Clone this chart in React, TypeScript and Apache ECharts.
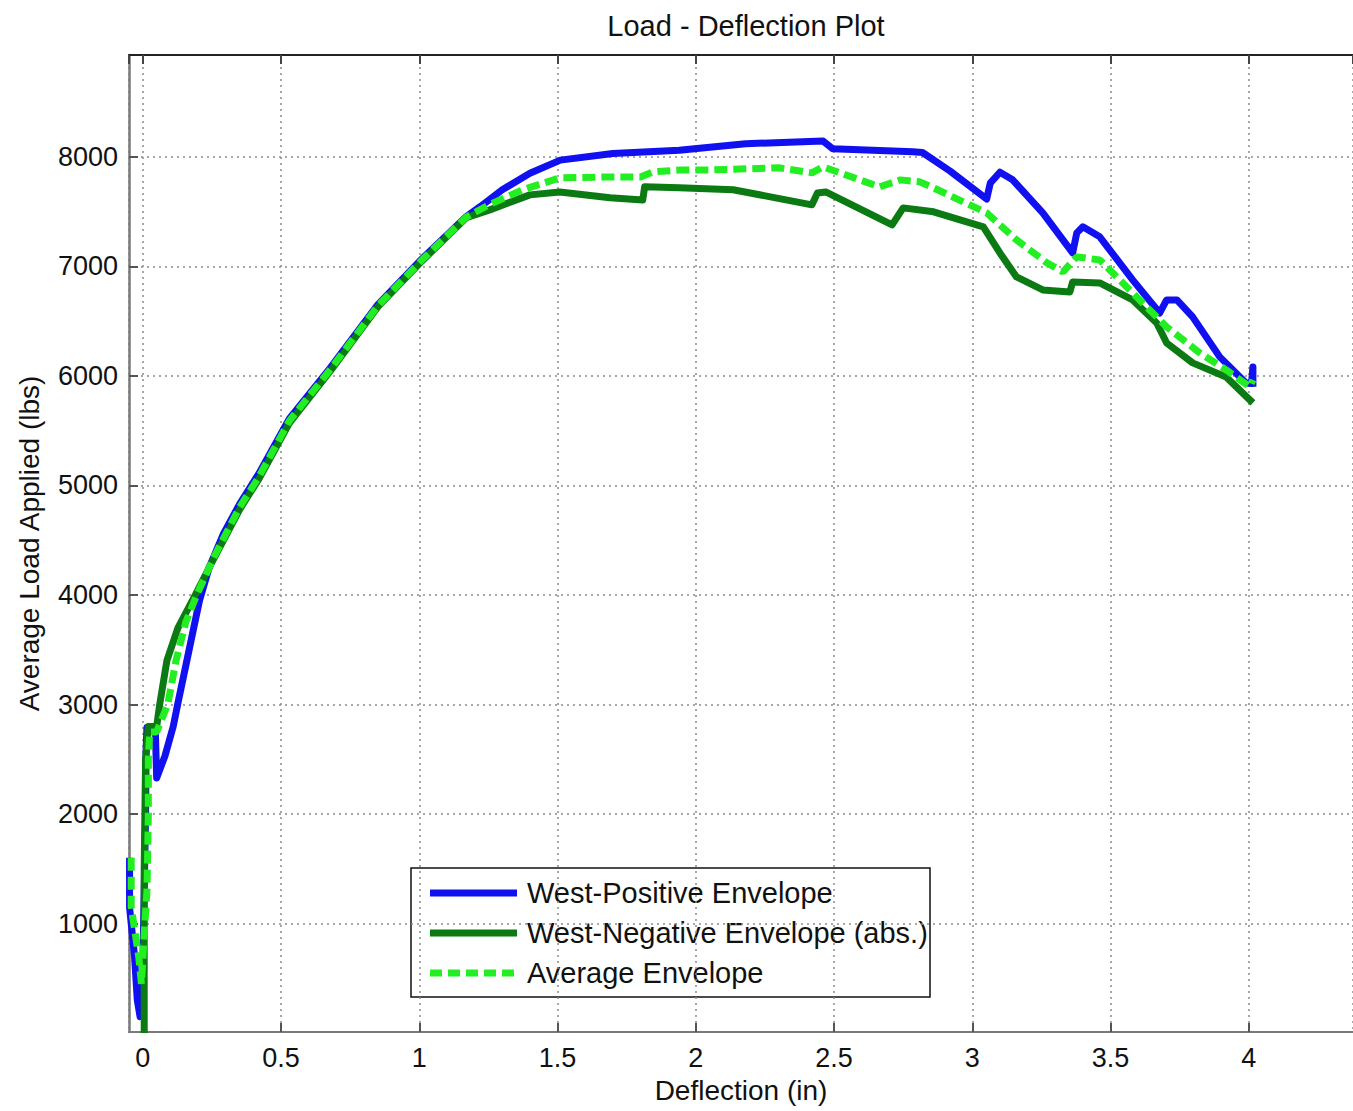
import React, { useEffect, useRef } from "react";
import * as echarts from "echarts";

const chartTitle = "Load - Deflection Plot";
const xAxisName = "Deflection (in)";
const yAxisName = "Average Load Applied (lbs)";
const seriesNames = [
  "West-Positive Envelope",
  "West-Negative Envelope (abs.)",
  "Average Envelope",
];
const seriesColors = ["#1010f0", "#0b7a12", "#22ee22"];

// [deflection (in), load (lbs)]
const positiveEnvelope: [number, number][] = [
  [-0.048, 1600], [-0.048, 1150], [-0.04, 950], [-0.03, 700], [-0.02, 300],
  [-0.01, 150], [0.0, 600], [0.005, 1300], [0.01, 2000], [0.012, 2600],
  [0.015, 2790], [0.045, 2790], [0.05, 2330], [0.08, 2530], [0.11, 2800],
  [0.13, 3050], [0.155, 3350], [0.18, 3650], [0.205, 3950], [0.24, 4250],
  [0.29, 4550], [0.35, 4830], [0.42, 5110], [0.53, 5610], [0.68, 6080],
  [0.85, 6650], [1.01, 7070], [1.17, 7455], [1.22, 7545], [1.3, 7700],
  [1.4, 7850], [1.51, 7970], [1.7, 8030], [1.94, 8060], [2.18, 8120],
  [2.46, 8145], [2.495, 8075], [2.785, 8046], [2.82, 8040], [2.92, 7870],
  [3.052, 7615], [3.065, 7760], [3.1, 7860], [3.146, 7790], [3.255, 7489],
  [3.363, 7123], [3.378, 7306], [3.4, 7361], [3.461, 7270], [3.58, 6877],
  [3.678, 6575], [3.703, 6694], [3.74, 6694], [3.797, 6539], [3.895, 6174],
  [3.99, 5936], [4.01, 5930], [4.015, 6082], [4.015, 5900],
];

const negativeEnvelope: [number, number][] = [
  [0.005, 0], [0.005, 1500], [0.01, 2500], [0.02, 2800], [0.05, 2800],
  [0.061, 3000], [0.087, 3400], [0.127, 3700], [0.19, 4000], [0.25, 4300],
  [0.35, 4780], [0.42, 5060], [0.53, 5570], [0.68, 6050], [0.85, 6630],
  [1.01, 7050], [1.17, 7445], [1.255, 7516], [1.4, 7653], [1.508, 7680],
  [1.69, 7626], [1.808, 7607], [1.815, 7726], [1.94, 7717], [2.135, 7700],
  [2.42, 7562], [2.44, 7670], [2.47, 7680], [2.71, 7379], [2.75, 7534],
  [2.86, 7498], [3.04, 7360], [3.1, 7123], [3.16, 6904], [3.255, 6785],
  [3.353, 6767], [3.363, 6858], [3.461, 6849], [3.58, 6694], [3.667, 6484],
  [3.703, 6301], [3.797, 6119], [3.918, 5991], [4.015, 5754],
];

const averageEnvelope: [number, number][] = [
  [-0.042, 1600], [-0.042, 1150], [-0.03, 950], [-0.015, 700], [-0.005, 450],
  [0.005, 900], [0.015, 1300], [0.02, 2000], [0.02, 2500], [0.025, 2750],
  [0.05, 2750], [0.09, 3000], [0.12, 3400], [0.155, 3750], [0.195, 4000],
  [0.26, 4360], [0.35, 4800], [0.42, 5080], [0.53, 5590], [0.68, 6065],
  [0.85, 6640], [1.01, 7060], [1.17, 7450], [1.25, 7560], [1.374, 7700],
  [1.508, 7808], [1.7, 7817], [1.8, 7817], [1.845, 7863], [1.942, 7880],
  [2.05, 7880], [2.3, 7900], [2.42, 7854], [2.46, 7909], [2.665, 7726],
  [2.74, 7790], [2.81, 7772], [2.86, 7717], [3.052, 7489], [3.16, 7242],
  [3.27, 7032], [3.328, 6950], [3.378, 7087], [3.461, 7059], [3.58, 6758],
  [3.703, 6447], [3.823, 6210], [3.918, 6055], [4.004, 5900], [4.015, 5964],
];

const xRange = [-0.05, 4.377];
const yRange = [10, 8930];

const FONT = "'Liberation Sans', Arial, sans-serif";

export default function App() {
  const ref = useRef<HTMLDivElement>(null);
  useEffect(() => {
    if (!ref.current) return;
    const chart = echarts.init(ref.current, null, { renderer: "svg" });
    const gridLine = { show: true, lineStyle: { color: "#8a8a8a", width: 1.5, type: [2, 4] as any } };

    const legendX = 411;
    const legendY = 868;
    const legendRowY = [25, 65, 105];
    const legendChildren: any[] = [
      {
        type: "rect",
        shape: { x: 0, y: 0, width: 519, height: 129 },
        style: { fill: "#ffffff", stroke: "#111", lineWidth: 1.5 },
      },
    ];
    seriesNames.forEach((name, i) => {
      legendChildren.push({
        type: "line",
        shape: { x1: 19, y1: legendRowY[i], x2: 106, y2: legendRowY[i] },
        style: {
          stroke: seriesColors[i],
          lineWidth: 7,
          lineDash: i === 2 ? [12, 6] : null,
        },
      });
      legendChildren.push({
        type: "text",
        x: 116,
        y: legendRowY[i],
        style: {
          text: name,
          fontFamily: FONT,
          fontSize: 29,
          fill: "#111",
          textVerticalAlign: "middle",
          verticalAlign: "middle",
        },
      });
    });

    chart.setOption({
      animation: false,
      backgroundColor: "#ffffff",
      title: {
        text: chartTitle,
        left: 741,
        textAlign: "center",
        top: 6,
        textStyle: { fontFamily: FONT, fontSize: 29, fontWeight: "normal", color: "#111" },
      },
      grid: { left: 129, top: 55, right: 0, height: 977, containLabel: false },
      xAxis: [
        {
          type: "value",
          min: xRange[0],
          max: xRange[1],
          splitNumber: 9,
          name: xAxisName,
          nameLocation: "middle",
          nameGap: 44,
          nameTextStyle: { fontFamily: FONT, fontSize: 28, color: "#111" },
          axisLine: { show: true, onZero: false, lineStyle: { color: "#7a7a7a", width: 2 } },
          axisTick: { show: true, inside: true, length: 9, lineStyle: { color: "#555", width: 2 } },
          axisLabel: {
            margin: 12,
            fontFamily: FONT,
            fontSize: 27,
            color: "#111",
            showMinLabel: false,
            showMaxLabel: false,
            formatter: (v: number) =>
              Math.abs(v * 2 - Math.round(v * 2)) < 1e-6 && v >= 0 && v <= 4.01 ? String(v) : "",
          },
          splitLine: gridLine,
        },
        {
          type: "value",
          position: "top",
          min: xRange[0],
          max: xRange[1],
          splitNumber: 9,
          axisLine: { show: true, onZero: false, lineStyle: { color: "#222", width: 2 } },
          axisTick: { show: true, inside: true, length: 9, lineStyle: { color: "#444", width: 2 } },
          axisLabel: { show: false },
          splitLine: { show: false },
        },
      ],
      yAxis: {
        type: "value",
        min: yRange[0],
        max: yRange[1],
        splitNumber: 9,
        name: yAxisName,
        nameLocation: "middle",
        nameGap: 86,
        nameTextStyle: { fontFamily: FONT, fontSize: 28, color: "#111" },
        axisLine: { show: true, onZero: false, lineStyle: { color: "#7a7a7a", width: 2.5 } },
        axisTick: { show: true, inside: true, length: 9, lineStyle: { color: "#555", width: 2 } },
        axisLabel: {
          margin: 11,
          fontFamily: FONT,
          fontSize: 27,
          color: "#111",
          showMinLabel: false,
          showMaxLabel: false,
          formatter: (v: number) => (v > 0 && Math.round(v) % 1000 === 0 ? String(Math.round(v)) : ""),
        },
        splitLine: gridLine,
      },
      graphic: [
        {
          type: "group",
          x: legendX,
          y: legendY,
          z: 100,
          children: legendChildren,
        },
      ],
      series: [
        {
          name: seriesNames[0],
          type: "line",
          data: positiveEnvelope,
          showSymbol: false,
          symbol: "none",
          lineStyle: { color: seriesColors[0], width: 7, join: "round" },
          itemStyle: { color: seriesColors[0] },
          z: 2,
        },
        {
          name: seriesNames[1],
          type: "line",
          data: negativeEnvelope,
          showSymbol: false,
          symbol: "none",
          lineStyle: { color: seriesColors[1], width: 7, join: "round" },
          itemStyle: { color: seriesColors[1] },
          z: 3,
        },
        {
          name: seriesNames[2],
          type: "line",
          data: averageEnvelope,
          showSymbol: false,
          symbol: "none",
          lineStyle: { color: seriesColors[2], width: 7, type: [13, 6] as any },
          itemStyle: { color: seriesColors[2] },
          z: 4,
        },
      ],
    });
    return () => chart.dispose();
  }, []);
  return (
    <div
      ref={ref}
      style={{ position: "absolute", left: 0, top: 0, width: 1353, height: 1111, overflow: "hidden" }}
    />
  );
}
